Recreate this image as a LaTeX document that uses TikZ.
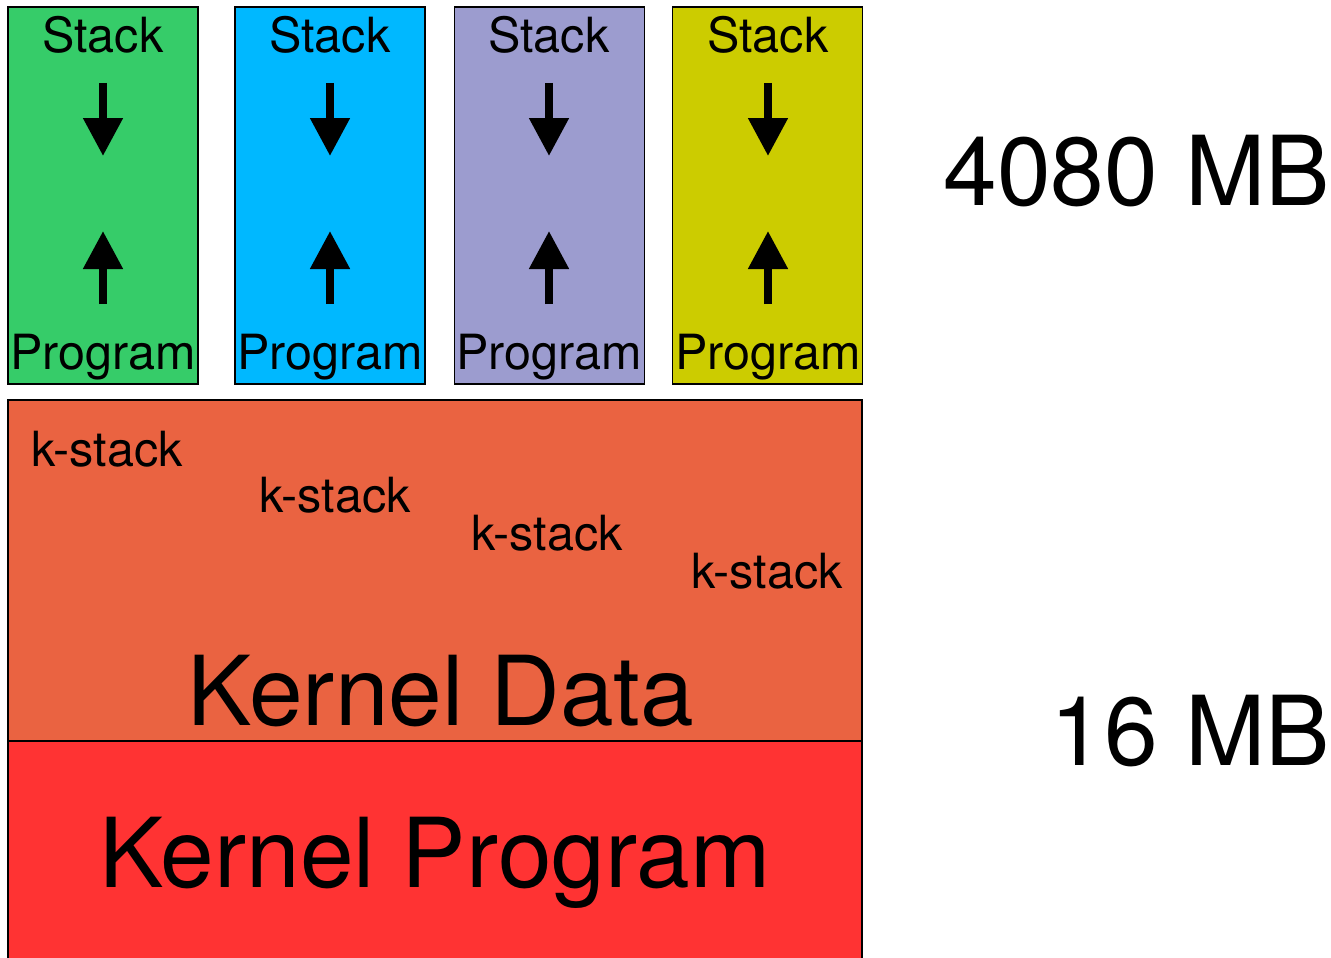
\documentclass[tikz,border=0pt]{standalone}
\usepackage{fontspec}
\setmainfont{TeX Gyre Heros}
\usepackage{tikz}
\usetikzlibrary{arrows.meta,positioning,calc}
\definecolor{userA}{HTML}{36CC69}
\definecolor{userB}{HTML}{00B8FF}
\definecolor{userC}{HTML}{9C9CCF}
\definecolor{userD}{HTML}{CCCC00}
\definecolor{kdata}{HTML}{EA6341}
\definecolor{kprog}{HTML}{FF3333}
\tikzset{
  membox/.style={draw=black, line width=1.5pt, inner sep=0pt},
  userbox/.style={membox, minimum width=190pt, minimum height=377pt},
  small/.style={anchor=base, inner sep=0pt, font=\fontsize{48.5}{52}\selectfont},
  big/.style={anchor=base, inner sep=0pt, font=\fontsize{96.5}{100}\selectfont},
  growarrow/.style={line width=8pt, -{Triangle[width=38pt,length=38pt]}}
}
\begin{document}
\begin{tikzpicture}[x=1pt,y=-1pt]
    \useasboundingbox (0,0) rectangle (1331,958);

    \node [userbox, fill=userA] (u1) at (103,195.5) {};
    \node [userbox, fill=userB] (u2) at (330,195.5) {};
    \node [userbox, fill=userC] (u3) at (549.5,195.5) {};
    \node [userbox, fill=userD] (u4) at (767.5,195.5) {};
    \node [membox, fill=kprog, minimum width=854pt, minimum height=230pt] (kp) at (435,856) {};
    \node [membox, fill=kdata, minimum width=854pt, minimum height=341pt] (kd) at (435,570.5) {};

    \foreach \b/\x in {1/103, 2/330, 3/549, 4/768} {
        \node [small] (stk\b) at (\x,53) {Stack};
        \node [small] (prg\b) at (\x,369) {Program};
        \coordinate (dt\b) at (\x,83);
        \coordinate (dh\b) at (\x,156);
        \coordinate (ut\b) at (\x,304);
        \coordinate (uh\b) at (\x,231);
        \draw [growarrow] (dt\b)--(dh\b);
        \draw [growarrow] (ut\b)--(uh\b);
    }

    \node [small] (ks1) at (107,466) {k-stack};
    \node [small] (ks2) at (335,512) {k-stack};
    \node [small] (ks3) at (547,550) {k-stack};
    \node [small] (ks4) at (767,588) {k-stack};

    \node [big] (kdlabel) at (441,725) {Kernel Data};
    \node [big] (kplabel) at (435,887) {Kernel Program};

    \node [big, anchor=base east] (hi) at (1330,205) {4080 MB};
    \node [big, anchor=base east] (lo) at (1330,765) {16 MB};
  \end{tikzpicture}
\end{document}
